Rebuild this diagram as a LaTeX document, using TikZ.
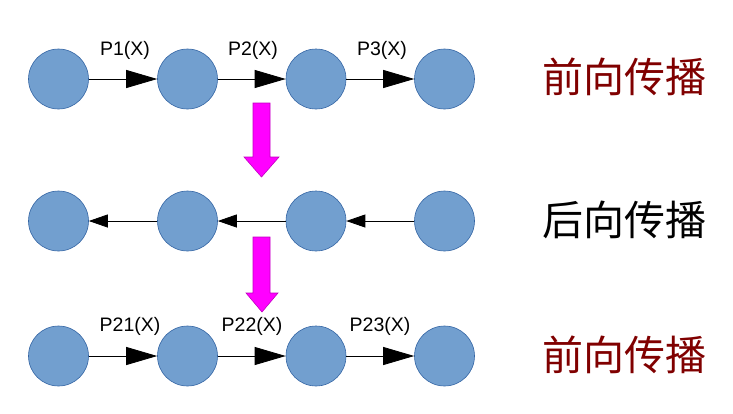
\documentclass[tikz,border=0pt]{standalone}
\usepackage{fontspec}
\setmainfont{Liberation Sans}
\newfontfamily\cjk{Noto Sans CJK SC}
\usetikzlibrary{arrows.meta}
\definecolor{nodefill}{HTML}{729FCF}
\definecolor{nodeline}{HTML}{3465A4}
\definecolor{darkred}{HTML}{800000}
\definecolor{pinkfill}{HTML}{FF00FF}
\definecolor{pinkline}{HTML}{C000C0}
\begin{document}
\begin{tikzpicture}[x=1bp,y=-1bp,
  ball/.style={circle,fill=nodefill,draw=nodeline,line width=0.6bp,minimum size=60bp,inner sep=0pt},
  fwd/.style={line width=0.8bp,-{Triangle[length=31bp,width=18bp]}},
  bwd/.style={line width=0.8bp,{Triangle[length=19bp,width=13bp]}-},
  lbl/.style={font=\fontsize{19.5bp}{22bp}\selectfont,inner sep=0pt},
  title/.style={font=\cjk\fontsize{41bp}{45bp}\selectfont,inner sep=0pt},
  bigarrow/.style={fill=pinkfill,draw=pinkline,line width=0.6bp}]
\useasboundingbox (0,0) rectangle (733,413);
\foreach \i/\x in {1/58.5,2/187.5,3/316,4/444.5}{
  \node[ball] (a\i) at (\x,79) {};
  \node[ball] (b\i) at (\x,221) {};
  \node[ball] (c\i) at (\x,356) {};
}
\draw[fwd] (a1) -- (a2);
\draw[fwd] (a2) -- (a3);
\draw[fwd] (a3) -- (a4);
\draw[bwd] (b1) -- (b2);
\draw[bwd] (b2) -- (b3);
\draw[bwd] (b3) -- (b4);
\draw[fwd] (c1) -- (c2);
\draw[fwd] (c2) -- (c3);
\draw[fwd] (c3) -- (c4);
\node[lbl] (l1) at (125,50) {P1(X)};
\node[lbl] (l2) at (253,50) {P2(X)};
\node[lbl] (l3) at (382,50) {P3(X)};
\node[lbl] (m1) at (130,326) {P21(X)};
\node[lbl] (m2) at (252,326) {P22(X)};
\node[lbl] (m3) at (380,326) {P23(X)};
\node[title,text=darkred] (t1) at (624,77) {前向传播};
\node[title,text=black] (t2) at (624,220) {后向传播};
\node[title,text=darkred] (t3) at (624,355) {前向传播};
\draw[bigarrow] (253,103) -- (270,103) -- (270,157) -- (279,157) -- (261.5,177) -- (244,157) -- (253,157) -- cycle;
\draw[bigarrow] (253,237) -- (270,237) -- (270,293) -- (278,293) -- (262,312) -- (246,293) -- (253,293) -- cycle;
\end{tikzpicture}
\end{document}
